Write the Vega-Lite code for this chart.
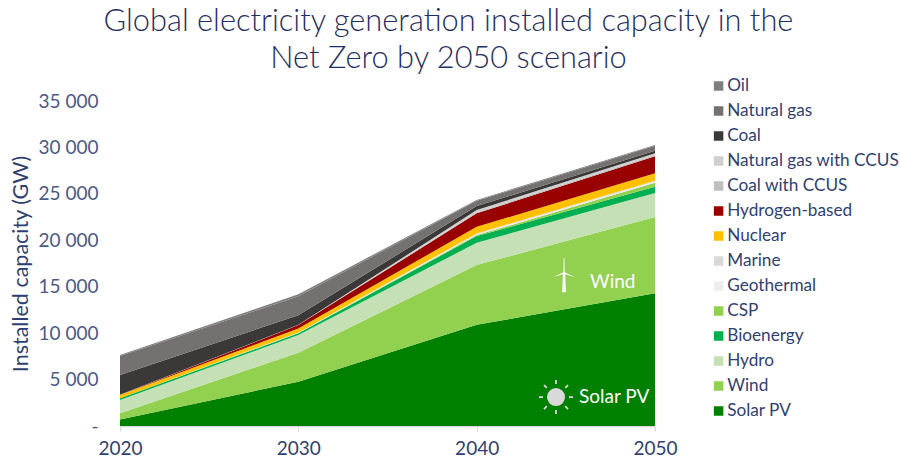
{
"$schema":"https://vega.github.io/schema/vega-lite/v6.json",
"width":535,"height":325,
"autosize":{"type":"none"},
"padding":{"left":120,"top":101,"right":245,"bottom":36},
"background":"white",
"title":{"text":["Global electricity generation installed capacity in the","Net Zero by 2050 scenario"],"font":"Lato","fontSize":30.8,"fontWeight":300,"color":"#1F2F63","lineHeight":37,"anchor":"middle","frame":"group","dx":61,"offset":1},
"config":{"view":{"stroke":null},"font":"Lato"},
"datasets":{
"capacity":[
{"year":2020,"source":"Solar PV","order":1,"gw":700},{"year":2030,"source":"Solar PV","order":1,"gw":4770},{"year":2040,"source":"Solar PV","order":1,"gw":10900},{"year":2050,"source":"Solar PV","order":1,"gw":14300},
{"year":2020,"source":"Wind","order":2,"gw":670},{"year":2030,"source":"Wind","order":2,"gw":3120},{"year":2040,"source":"Wind","order":2,"gw":6430},{"year":2050,"source":"Wind","order":2,"gw":8200},
{"year":2020,"source":"Hydro","order":3,"gw":1430},{"year":2030,"source":"Hydro","order":3,"gw":1910},{"year":2040,"source":"Hydro","order":3,"gw":2400},{"year":2050,"source":"Hydro","order":3,"gw":2580},
{"year":2020,"source":"Bioenergy","order":4,"gw":180},{"year":2030,"source":"Bioenergy","order":4,"gw":180},{"year":2040,"source":"Bioenergy","order":4,"gw":720},{"year":2050,"source":"Bioenergy","order":4,"gw":680},
{"year":2020,"source":"CSP","order":5,"gw":5},{"year":2030,"source":"CSP","order":5,"gw":40},{"year":2040,"source":"CSP","order":5,"gw":110},{"year":2050,"source":"CSP","order":5,"gw":430},
{"year":2020,"source":"Geothermal","order":6,"gw":15},{"year":2030,"source":"Geothermal","order":6,"gw":40},{"year":2040,"source":"Geothermal","order":6,"gw":100},{"year":2050,"source":"Geothermal","order":6,"gw":130},
{"year":2020,"source":"Marine","order":7,"gw":1},{"year":2030,"source":"Marine","order":7,"gw":10},{"year":2040,"source":"Marine","order":7,"gw":80},{"year":2050,"source":"Marine","order":7,"gw":80},
{"year":2020,"source":"Nuclear","order":8,"gw":340},{"year":2030,"source":"Nuclear","order":8,"gw":430},{"year":2040,"source":"Nuclear","order":8,"gw":710},{"year":2050,"source":"Nuclear","order":8,"gw":830},
{"year":2020,"source":"Hydrogen-based","order":9,"gw":10},{"year":2030,"source":"Hydrogen-based","order":9,"gw":370},{"year":2040,"source":"Hydrogen-based","order":9,"gw":1450},{"year":2050,"source":"Hydrogen-based","order":9,"gw":1830},
{"year":2020,"source":"Coal with CCUS","order":10,"gw":1},{"year":2030,"source":"Coal with CCUS","order":10,"gw":15},{"year":2040,"source":"Coal with CCUS","order":10,"gw":130},{"year":2050,"source":"Coal with CCUS","order":10,"gw":120},
{"year":2020,"source":"Natural gas with CCUS","order":11,"gw":1},{"year":2030,"source":"Natural gas with CCUS","order":11,"gw":15},{"year":2040,"source":"Natural gas with CCUS","order":11,"gw":220},{"year":2050,"source":"Natural gas with CCUS","order":11,"gw":200},
{"year":2020,"source":"Coal","order":12,"gw":2140},{"year":2030,"source":"Coal","order":12,"gw":1030},{"year":2040,"source":"Coal","order":12,"gw":430},{"year":2050,"source":"Coal","order":12,"gw":260},
{"year":2020,"source":"Natural gas","order":13,"gw":2040},{"year":2030,"source":"Natural gas","order":13,"gw":2040},{"year":2040,"source":"Natural gas","order":13,"gw":570},{"year":2050,"source":"Natural gas","order":13,"gw":530},
{"year":2020,"source":"Oil","order":14,"gw":110},{"year":2030,"source":"Oil","order":14,"gw":210},{"year":2040,"source":"Oil","order":14,"gw":100},{"year":2050,"source":"Oil","order":14,"gw":80}
]},
"layer":[
{"data":{"name":"capacity"},"mark":{"type":"area","interpolate":"linear"},
"encoding":{
"x":{"field":"year","type":"quantitative","scale":{"domain":[2020,2050],"nice":false,"zero":false},
"axis":{"title":null,"values":[2020,2030,2040,2050],"format":"d","grid":false,"labelFont":"Lato","labelFontSize":19,"labelColor":"#2F3F73","labelPadding":8,"labelFlush":false,"domainColor":"#D9D9D9","domainWidth":1.5,"tickColor":"#D9D9D9","tickSize":5}},
"y":{"field":"gw","type":"quantitative","stack":"zero","scale":{"domain":[0,35000],"nice":false},
"axis":{"title":"Installed capacity (GW)","titleFont":"Lato","titleFontSize":21.5,"titleFontWeight":"normal","titleColor":"#2F3F73","titlePadding":6,"values":[0,5000,10000,15000,20000,25000,30000,35000],"labelExpr":"datum.value==0?'-':replace(format(datum.value,','),',',' ')","grid":false,"domain":false,"ticks":false,"labelFont":"Lato","labelFontSize":19,"labelColor":"#4A5A88","labelPadding":22}},
"order":{"field":"order","type":"quantitative"},
"color":{"field":"source","type":"nominal","scale":{
"domain":["Oil","Natural gas","Coal","Natural gas with CCUS","Coal with CCUS","Hydrogen-based","Nuclear","Marine","Geothermal","CSP","Bioenergy","Hydro","Wind","Solar PV"],
"range":["#7F7F7F","#767171","#3B3838","#D0CECE","#BFBFBF","#990000","#FFC000","#D9D9D9","#EDEDED","#92D050","#00B050","#C5E0B4","#92D050","#008000"]},
"legend":{"title":null,"orient":"none","legendX":590,"legendY":-25,"symbolType":"square","symbolSize":90,"symbolStrokeWidth":0,"symbolOpacity":1,"labelFont":"Lato","labelFontSize":17.2,"labelColor":"#2F3F73","labelOffset":0,"rowPadding":5,"labelLimit":200,"clipHeight":20}}
}},
{"data":{"values":[{"year":2046.36,"gw":15500,"label":"Wind"},{"year":2045.74,"gw":3120,"label":"Solar PV"}]},
"mark":{"type":"text","align":"left","baseline":"middle","font":"Lato","fontSize":19,"color":"#FFFFFF"},
"encoding":{"x":{"field":"year","type":"quantitative"},"y":{"field":"gw","type":"quantitative"},"text":{"field":"label"}}},
{"data":{"values":[{"year":2044.9,"gw":16440}]},
"mark":{"type":"point","filled":true,"fill":"#FFFFFF","stroke":null,"opacity":1,"size":1600,"shape":"M-0.02,-0.75 L0.02,-0.75 L0.03,-0.05 L0.55,0.2 L0.06,0.04 L0.09,0.95 L-0.09,0.95 L-0.06,0.04 L-0.55,0.2 L-0.03,-0.05 Z"},
"encoding":{"x":{"field":"year","type":"quantitative"},"y":{"field":"gw","type":"quantitative"}}},
{"data":{"values":[{"year":2044.45,"gw":3120}]},
"mark":{"type":"point","filled":true,"fill":"#D9D9D9","stroke":null,"opacity":1,"size":324,"shape":"circle"},
"encoding":{"x":{"field":"year","type":"quantitative"},"y":{"field":"gw","type":"quantitative"}}},
{"data":{"values":[{"year":2044.45,"gw":3120}]},
"mark":{"type":"point","filled":false,"stroke":"#D9D9D9","strokeWidth":1.8,"opacity":1,"size":1600,"shape":"M0.65,0 L0.85,0 M-0.65,0 L-0.85,0 M0,0.65 L0,0.85 M0,-0.65 L0,-0.85 M0.46,0.46 L0.6,0.6 M-0.46,-0.46 L-0.6,-0.6 M0.46,-0.46 L0.6,-0.6 M-0.46,0.46 L-0.6,0.6"},
"encoding":{"x":{"field":"year","type":"quantitative"},"y":{"field":"gw","type":"quantitative"}}}
]
}
